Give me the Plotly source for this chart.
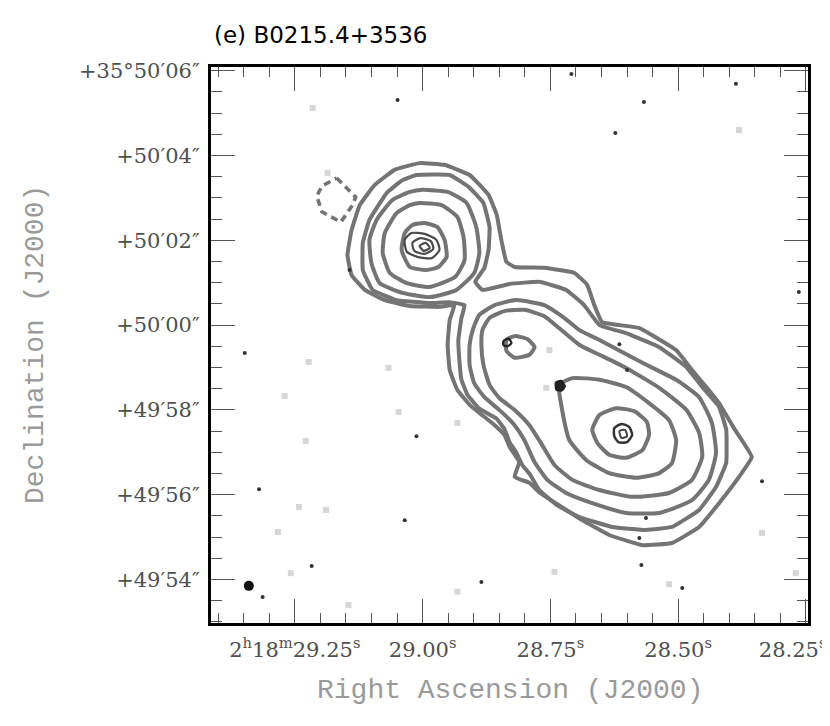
# radio contour map of B0215.4+3536 redrawn with plotly

import plotly.graph_objects as go

# positions: RA in seconds of time after 2h18m, Dec in arcsec after +35d49'
# broad gray contours, outermost first (lvl1/lvl2 enclose core and lobe)
contour_lvl1 = [
    (29.006, 63.82), (28.957, 63.78), (28.908, 63.54), (28.871, 63.07), (28.855, 62.60),
    (28.846, 62.01), (28.836, 61.49), (28.820, 61.37), (28.762, 61.35), (28.703, 61.23),
    (28.678, 60.95), (28.664, 60.47), (28.649, 60.07), (28.576, 59.93), (28.504, 59.41),
    (28.473, 58.94), (28.445, 58.54), (28.420, 58.16), (28.391, 57.57), (28.356, 56.89),
    (28.381, 56.42), (28.420, 55.80), (28.459, 55.24), (28.512, 54.86), (28.570, 54.81),
    (28.635, 55.05), (28.688, 55.40), (28.719, 55.64), (28.746, 55.85), (28.772, 56.06),
    (28.791, 56.28), (28.820, 56.42), (28.811, 56.77), (28.830, 57.13), (28.840, 57.41),
    (28.859, 57.64), (28.889, 57.93), (28.908, 58.12), (28.932, 58.47), (28.947, 58.94),
    (28.951, 59.53), (28.947, 60.12), (28.938, 60.47), (28.967, 60.43), (29.025, 60.45),
    (29.074, 60.59), (29.113, 60.83), (29.139, 61.18), (29.147, 61.65), (29.139, 62.24),
    (29.123, 62.83), (29.094, 63.30), (29.055, 63.66),
]
contour_lvl2 = [
    (29.012, 63.54), (28.947, 63.54), (28.910, 63.26), (28.881, 62.88), (28.869, 62.31),
    (28.871, 61.77), (28.879, 61.35), (28.897, 61.02), (28.883, 60.83), (28.830, 60.97),
    (28.772, 61.02), (28.719, 60.83), (28.684, 60.47), (28.654, 60.00), (28.602, 59.81),
    (28.537, 59.48), (28.484, 59.01), (28.453, 58.54), (28.420, 58.07), (28.406, 57.53),
    (28.406, 56.75), (28.426, 56.18), (28.459, 55.64), (28.512, 55.24), (28.563, 55.17),
    (28.629, 55.24), (28.693, 55.47), (28.738, 55.76), (28.772, 56.11), (28.790, 56.48),
    (28.805, 56.70), (28.817, 57.00), (28.830, 57.24), (28.840, 57.55), (28.856, 57.80),
    (28.889, 58.03), (28.912, 58.35), (28.924, 58.71), (28.928, 59.16), (28.930, 59.65),
    (28.924, 60.17), (28.918, 60.47), (28.947, 60.54), (28.986, 60.52), (29.051, 60.59),
    (29.098, 60.83), (29.117, 61.30), (29.117, 61.94), (29.104, 62.48), (29.070, 63.12),
    (29.039, 63.42),
]
core_lvl3 = [
    (29.000, 63.19), (28.951, 63.14), (28.914, 62.88), (28.895, 62.31), (28.889, 61.70),
    (28.899, 61.23), (28.934, 60.83), (28.986, 60.66), (29.039, 60.76), (29.084, 60.99),
    (29.100, 61.46), (29.104, 62.01), (29.090, 62.48), (29.059, 62.95), (29.025, 63.14),
]
core_lvl4 = [
    (29.006, 62.88), (28.963, 62.83), (28.932, 62.55), (28.920, 62.08), (28.918, 61.53),
    (28.936, 61.14), (28.986, 60.90), (29.031, 60.99), (29.064, 61.23), (29.078, 61.70),
    (29.074, 62.17), (29.051, 62.64), (29.025, 62.83),
]
core_lvl5 = [
    (28.996, 62.41), (28.971, 62.31), (28.957, 62.01), (28.953, 61.61), (28.969, 61.37),
    (28.992, 61.30), (29.025, 61.37), (29.041, 61.77), (29.035, 62.17), (29.020, 62.36),
]
lobe_lvl3 = [
    (28.902, 59.88), (28.889, 60.24), (28.859, 60.47), (28.817, 60.59), (28.762, 60.47),
    (28.723, 60.17), (28.693, 59.88), (28.654, 59.65), (28.570, 59.11), (28.504, 58.71),
    (28.459, 58.30), (28.434, 57.69), (28.426, 56.98), (28.440, 56.35), (28.473, 55.87),
    (28.537, 55.57), (28.602, 55.57), (28.668, 55.80), (28.719, 56.04), (28.756, 56.35),
    (28.781, 56.77), (28.801, 57.29), (28.820, 57.64), (28.850, 58.00), (28.879, 58.30),
    (28.899, 58.63), (28.908, 59.06), (28.908, 59.53),
]
lobe_lvl4 = [
    (28.883, 59.88), (28.869, 60.17), (28.840, 60.33), (28.801, 60.36), (28.762, 60.21),
    (28.733, 59.93), (28.693, 59.53), (28.654, 59.30), (28.602, 58.99), (28.537, 58.52),
    (28.484, 58.00), (28.459, 57.46), (28.453, 56.89), (28.473, 56.35), (28.518, 56.04),
    (28.590, 55.95), (28.654, 56.11), (28.707, 56.35), (28.742, 56.70), (28.766, 57.17),
    (28.791, 57.64), (28.820, 58.00), (28.850, 58.28), (28.869, 58.59), (28.881, 59.06),
    (28.885, 59.53),
]
lobe_lvl5 = [
    (28.733, 58.59), (28.707, 58.75), (28.654, 58.71), (28.602, 58.54), (28.557, 58.16),
    (28.518, 57.76), (28.504, 57.29), (28.512, 56.75), (28.537, 56.51), (28.582, 56.40),
    (28.635, 56.51), (28.680, 56.82), (28.713, 57.29), (28.727, 58.00),
]
knot_lvl5 = [
    (28.836, 59.65), (28.820, 59.74), (28.795, 59.67), (28.781, 59.48), (28.791, 59.30),
    (28.820, 59.23), (28.836, 59.39),
]
hotspot_lvl6 = [
    (28.621, 58.04), (28.586, 57.97), (28.561, 57.71), (28.557, 57.41), (28.570, 57.05),
    (28.602, 56.87), (28.635, 56.94), (28.658, 57.22), (28.668, 57.53), (28.654, 57.88),
]
negative_lvl = [
    (29.168, 63.47), (29.131, 63.02), (29.137, 62.83), (29.160, 62.43), (29.197, 62.67),
    (29.207, 63.04), (29.197, 63.28),
]

# thin dark contours of the high resolution image
core_knot_a = [
    (29.035, 62.01), (29.022, 62.17), (28.996, 62.15), (28.973, 62.01), (28.967, 61.77),
    (28.982, 61.58), (29.010, 61.61), (29.031, 61.73),
]
core_knot_b = [
    (29.020, 61.94), (29.004, 62.05), (28.984, 61.98), (28.979, 61.80), (28.996, 61.68),
    (29.016, 61.75),
]
core_knot_c = [(29.006, 61.87), (28.994, 61.94), (28.986, 61.82), (28.998, 61.75)]
knot_dark = [(28.842, 59.62), (28.832, 59.68), (28.826, 59.58), (28.834, 59.50), (28.842, 59.53)]
jet_dot = [(28.739, 58.64), (28.729, 58.68), (28.722, 58.56), (28.728, 58.46), (28.738, 58.48)]
hotspot_dark_a = [
    (28.625, 57.57), (28.611, 57.67), (28.596, 57.60), (28.590, 57.41), (28.600, 57.24),
    (28.617, 57.24), (28.625, 57.38),
]
hotspot_dark_b = [(28.615, 57.50), (28.604, 57.53), (28.600, 57.38), (28.611, 57.34)]

# noise peaks
noise_rings = [
    (29.289, 62.03), (29.369, 59.81), (29.334, 58.30), (29.354, 57.31), (29.320, 56.42),
    (29.342, 55.12), (28.982, 53.66), (28.902, 54.91), (28.981, 55.43), (28.326, 65.17),
    (28.537, 64.37), (28.649, 63.89), (28.650, 62.34), (28.742, 62.46), (28.719, 58.82),
]
noise_dots = [
    (29.049, 65.31), (28.709, 65.92), (28.567, 65.26), (28.623, 64.53), (29.348, 59.34),
    (29.320, 56.13), (29.313, 53.59), (29.217, 54.32), (29.012, 57.38), (29.035, 55.40),
    (28.885, 53.94), (28.572, 54.34), (28.492, 53.80), (28.336, 56.32), (28.264, 60.78),
    (29.143, 61.30), (28.615, 59.55), (28.600, 58.94), (28.576, 54.98), (28.563, 55.45),
    (28.387, 65.69),
]
faint_dots = [
    (29.215, 65.12), (29.283, 55.12), (29.258, 54.15), (29.145, 53.40), (29.242, 55.71),
    (29.189, 55.64), (29.229, 57.27), (29.270, 58.33), (29.223, 59.13), (29.067, 58.99),
    (29.047, 57.95), (28.932, 57.69), (28.932, 53.71), (28.742, 54.18), (28.518, 53.89),
    (28.336, 55.10), (28.752, 59.41), (28.758, 58.52), (28.381, 64.60), (28.270, 54.15),
    (29.186, 63.59),
]
bright_dot = [(29.340, 53.85)]

ra_ticks = [29.25, 29.00, 28.75, 28.50, 28.25]
# last label is pulled left so it stays inside the frame edge, as in the original
ra_labels = ["2<sup>h</sup>18<sup>m</sup>29.25<sup>s</sup>", "29.00<sup>s</sup>",
             "28.75<sup>s</sup>", "28.50<sup>s</sup>",
             "28.25<sup>s</sup>\u00a0\u00a0\u00a0\u00a0"]
dec_ticks = [54, 56, 58, 60, 62, 64, 66]
dec_labels = ["+49\u203254\u2033", "+49\u203256\u2033", "+49\u203258\u2033", "+50\u203200\u2033",
              "+50\u203202\u2033", "+50\u203204\u2033", "+35\u00b050\u203206\u2033"]

GRAY = '#747474'
TICK_FONT = dict(family='DejaVu Serif, serif', size=21, color='#505050')
TITLE_FONT = dict(family='Liberation Mono, DejaVu Sans Mono, monospace', size=28, color='#9a9a9a')

fig = go.Figure()


def add_loop(pts, color, width, dash='solid', fill=None, smooth=0.6, shape='spline'):
    # closed polyline through the listed vertices
    ra = [p[0] for p in pts] + [pts[0][0]]
    dec = [p[1] for p in pts] + [pts[0][1]]
    line = dict(color=color, width=width, dash=dash, shape=shape)
    if shape == 'spline':
        line['smoothing'] = smooth
    fig.add_trace(go.Scatter(
        x=ra, y=dec, mode='lines', line=line,
        fill='toself' if fill else None, fillcolor=fill,
        hoverinfo='skip', showlegend=False
    ))


add_loop(contour_lvl1, GRAY, 4, smooth=0.3)
add_loop(contour_lvl2, GRAY, 4, smooth=0.3)
for loop in [core_lvl3, core_lvl4, core_lvl5, lobe_lvl3, lobe_lvl4, lobe_lvl5,
             knot_lvl5, hotspot_lvl6]:
    add_loop(loop, GRAY, 4, smooth=0.5)

add_loop(negative_lvl, GRAY, 3.6, dash='7px,5px', shape='linear')

# dark compact structure
for loop in [core_knot_a, core_knot_b, core_knot_c]:
    add_loop(loop, '#4a4a4a', 2.2)
add_loop(knot_dark, '#222222', 2.2)
add_loop(jet_dot, '#222222', 2.5, fill='#222222')
add_loop(hotspot_dark_a, '#333333', 2.5)
add_loop(hotspot_dark_b, '#444444', 2)


def add_points(pts, **marker):
    fig.add_trace(go.Scatter(
        x=[p[0] for p in pts], y=[p[1] for p in pts], mode='markers',
        marker=marker, hoverinfo='skip', showlegend=False
    ))


add_points(faint_dots, size=6, color='#d6d6d6', symbol='square')
add_points(noise_rings, size=6, color='rgba(0,0,0,0)', symbol='circle-open',
           line=dict(color='#333333', width=1))
add_points(noise_dots, size=4, color='#333333')
add_points(bright_dot, size=10, color='#111111')

axis_common = dict(
    ticks='inside', tickcolor='#555555', tickwidth=1.3, ticklen=24,
    showline=True, linecolor='black', linewidth=3, mirror='allticks',
    showgrid=False, zeroline=False, tickfont=TICK_FONT, automargin=False,
    ticklabeloverflow='allow',
)

fig.update_xaxes(
    range=[29.414, 28.246], tickmode='array', tickvals=ra_ticks, ticktext=ra_labels,
    ticklabelstandoff=6,
    minor=dict(ticks='inside', tick0=28.25, dtick=0.05, ticklen=10, tickwidth=1.2,
               tickcolor='#555555', showgrid=False),
    **axis_common
)
fig.update_yaxes(
    range=[52.974, 66.087], tickmode='array', tickvals=dec_ticks, ticktext=dec_labels,
    ticklabelstandoff=4,
    minor=dict(ticks='inside', tick0=54, dtick=0.5, ticklen=11, tickwidth=1.2,
               tickcolor='#555555', showgrid=False),
    **axis_common
)

# the page body adds an 8px offset, so margins are set 8px smaller on the left/top
fig.update_layout(
    width=830, height=726,
    margin=dict(l=203, r=30, t=59, b=111),
    paper_bgcolor='white', plot_bgcolor='white',
    showlegend=False,
    annotations=[
        dict(text='(e) B0215.4+3536', xref='paper', yref='paper', x=0, y=1,
             xanchor='left', yanchor='middle', xshift=1, yshift=32, showarrow=False,
             font=dict(family='DejaVu Sans, sans-serif', size=23, color='black')),
        dict(text='Right Ascension (J2000)', xref='paper', yref='paper', x=0.5, y=0,
             xanchor='center', yanchor='middle', yshift=-67, showarrow=False, font=TITLE_FONT),
        dict(text='Declination (J2000)', xref='paper', yref='paper', x=0, y=0.5,
             xanchor='center', yanchor='middle', xshift=-176, textangle=-90,
             showarrow=False, font=TITLE_FONT),
    ],
)

fig.write_html("out.html")
